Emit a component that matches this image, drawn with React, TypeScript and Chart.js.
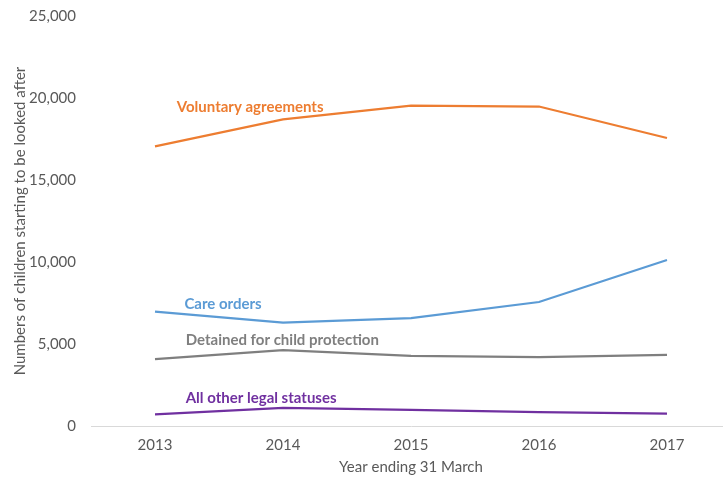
import React, { useEffect, useRef } from "react";
import { Chart, registerables } from "chart.js";

Chart.register(...registerables);

const years = ["2013", "2014", "2015", "2016", "2017"];
const voluntary = [17050, 18700, 19530, 19480, 17560];
const careOrders = [6980, 6300, 6580, 7560, 10120];
const detained = [4080, 4630, 4270, 4200, 4330];
const otherStatuses = [710, 1100, 980, 850, 750];

const seriesNames = ["Voluntary agreements", "Care orders", "Detained for child protection", "All other legal statuses"];
const seriesColors = ["#ED7D31", "#5B9BD5", "#7F7F7F", "#7030A0"];
// label anchors: fractional category index and value
const labelX = [0.17, 0.23, 0.24, 0.24];
const labelY = [19450, 7440, 5240, 1700];

const yTicks = [0, 5000, 10000, 15000, 20000, 25000];
const FONT = "Lato, 'Open Sans', sans-serif";

export default function App() {
  const ref = useRef<HTMLCanvasElement | null>(null);
  useEffect(() => {
    if (!ref.current) return;
    const labelPlugin = {
      id: "seriesLabels",
      afterDatasetsDraw(chart: any) {
        const ctx = chart.ctx;
        const xs = chart.scales.x;
        const ys = chart.scales.y;
        ctx.save();
        ctx.font = `bold 15px ${FONT}`;
        ctx.textAlign = "left";
        ctx.textBaseline = "middle";
        seriesNames.forEach((n, i) => {
          ctx.fillStyle = seriesColors[i];
          ctx.fillText(n, xs.getPixelForValue(labelX[i]), ys.getPixelForValue(labelY[i]));
        });
        ctx.restore();
      },
    };
    const allData = [voluntary, careOrders, detained, otherStatuses];
    const chart = new Chart(ref.current, {
      type: "line",
      data: {
        labels: years,
        datasets: allData.map((d, i) => ({
          label: seriesNames[i],
          data: d,
          borderColor: seriesColors[i],
          backgroundColor: seriesColors[i],
          borderWidth: 2.25,
          pointRadius: 0,
          tension: 0,
        })),
      },
      options: {
        animation: false,
        responsive: true,
        maintainAspectRatio: false,
        layout: { padding: { top: 16, left: 0, right: 0, bottom: 0 } },
        plugins: { legend: { display: false }, tooltip: { enabled: false } },
        scales: {
          x: {
            offset: true,
            grid: { display: false, drawTicks: false },
            border: { display: true, color: "#D9D9D9", width: 1 },
            ticks: { color: "#595959", font: { family: FONT, size: 15 }, padding: 10 },
            title: {
              display: true,
              text: "Year ending 31 March",
              color: "#595959",
              font: { family: FONT, size: 15 },
              padding: { top: 2, bottom: 5 },
            },
            afterFit: (s: any) => { s.height = 55; s.paddingLeft = 0; s.paddingRight = 0; },
          },
          y: {
            min: 0,
            max: 25000,
            afterBuildTicks: (s: any) => { s.ticks = yTicks.map((v) => ({ value: v })); },
            grid: { display: false, drawTicks: false },
            border: { display: false },
            ticks: {
              color: "#595959",
              font: { family: FONT, size: 15 },
              padding: 15,
              callback: (v: any) => Number(v).toLocaleString("en-GB"),
            },
            title: {
              display: true,
              text: "Numbers of children starting to be looked after",
              color: "#595959",
              font: { family: FONT, size: 15 },
              padding: { top: 11, bottom: 0 },
            },
            afterFit: (s: any) => { s.width = 91; s.paddingTop = 0; s.paddingBottom = 0; },
          },
        },
      },
      plugins: [labelPlugin],
    });
    return () => chart.destroy();
  }, []);
  return (
    <div style={{ position: "fixed", left: 0, top: 0, width: 723, height: 481, overflow: "hidden", background: "#fff" }}>
      <div style={{ position: "absolute", left: 0, top: 0, width: 731, height: 481 }}>
        <canvas ref={ref} />
      </div>
    </div>
  );
}
